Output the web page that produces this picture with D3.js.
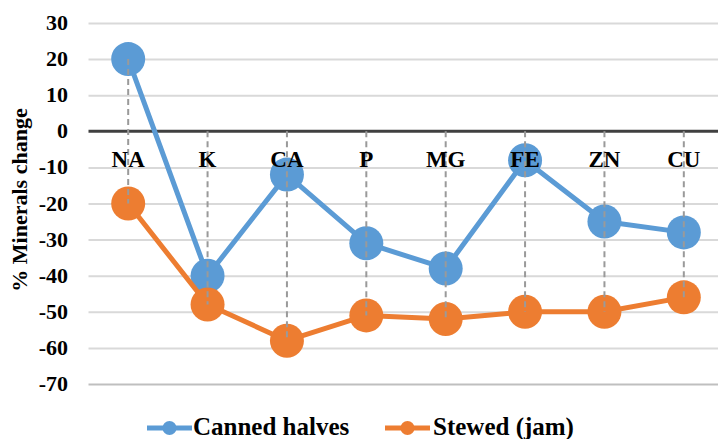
<!DOCTYPE html>
<html><head><meta charset="utf-8">
<script src="https://cdn.jsdelivr.net/npm/d3@7"></script>
<style>
html,body{margin:0;padding:0;background:#fff;overflow:hidden;}
#wrap{position:relative;width:718px;height:439px;overflow:hidden;}
#wrap svg{position:absolute;left:0;top:0;display:block;}
.lbl{position:absolute;white-space:nowrap;font-family:'Liberation Serif','Times New Roman',serif;font-weight:bold;color:#000;line-height:1;}
</style></head>
<body>
<div id="wrap"><svg id="c" width="718" height="439"></svg></div>
<script>
const categories = ["NA","K","CA","P","MG","FE","ZN","CU"];
const cannedHalves = [20,-40,-12,-31,-38,-8,-25,-28];
const stewedJam = [-20,-48,-58,-51,-52,-50,-50,-46];
const seriesNames = ["Canned halves","Stewed (jam)"];
const yTicks = [30,20,10,0,-10,-20,-30,-40,-50,-60,-70];
const colors = ["#5B9BD5","#ED7D31"];

const wrap = d3.select("#wrap");
const svg = d3.select("#c");
const x = d3.scaleBand().domain(categories).range([88.5, 723.5]);
const y = d3.scaleLinear().domain([-70,30]).range([384,23]);
const cx = d => x(d) + x.bandwidth()/2;

// HTML text helper: (x, baseline y), anchor start|middle|end
const ASC = 0.8375;
function label(sel, size, anchor){
  const tx = anchor==="middle" ? "-50%" : anchor==="end" ? "-100%" : "0";
  return sel.attr("class","lbl").style("font-size",size+"px")
    .style("transform",`translateX(${tx})`);
}

// gridlines via axis
const grid = d3.axisLeft(y).tickValues(yTicks.filter(t=>t!==0)).tickSize(-(718-88.5)).tickFormat("");
const gg = svg.append("g").attr("transform","translate(88.5,0)").call(grid);
gg.select(".domain").remove();
gg.selectAll(".tick line").attr("stroke",d=>d===-70?"#bfbfbf":"#d9d9d9").attr("stroke-width",2);

// zero line
svg.append("line").attr("x1",88.5).attr("x2",718).attr("y1",y(0)).attr("y2",y(0))
  .attr("stroke","#404040").attr("stroke-width",3);

// series
const lineGen = d3.line().x((d,i)=>cx(categories[i])).y(d=>y(d));
[cannedHalves, stewedJam].forEach((s,k)=>{
  svg.append("path").datum(s).attr("d",lineGen).attr("fill","none")
    .attr("stroke",colors[k]).attr("stroke-width",5).attr("stroke-linejoin","round");
  svg.append("g").selectAll("circle").data(s).join("circle")
    .attr("cx",(d,i)=>cx(categories[i])).attr("cy",d=>y(d)).attr("r",17)
    .attr("fill",colors[k]);
});

// drop lines
svg.append("g").selectAll("line").data(categories).join("line")
  .attr("x1",d=>cx(d)).attr("x2",d=>cx(d))
  .attr("y1",(d,i)=>y(Math.max(0,cannedHalves[i],stewedJam[i])))
  .attr("y2",(d,i)=>y(Math.min(cannedHalves[i],stewedJam[i])))
  .attr("stroke","#9a9a9a").attr("stroke-width",2).attr("stroke-dasharray","6,4");

// legend marks
const leg = [{x:147, tx:193},{x:385, tx:433}];
seriesNames.forEach((n,k)=>{
  svg.append("line").attr("x1",leg[k].x).attr("x2",leg[k].x+45).attr("y1",428).attr("y2",428)
    .attr("stroke",colors[k]).attr("stroke-width",5);
  svg.append("circle").attr("cx",leg[k].x+22.5).attr("cy",428).attr("r",7).attr("fill",colors[k]);
});

// y tick labels (HTML text)
const TS = 22;
wrap.selectAll("div.ytick").data(yTicks).join("div")
  .call(label, TS, "end").classed("ytick",true)
  .style("left","68px").style("top",d=>(y(d)+0.338*TS - ASC*TS)+"px")
  .text(d=>String(d));

// category labels
const CS = 23;
wrap.selectAll("div.cat").data(categories).join("div")
  .call(label, CS, "middle").classed("cat",true)
  .style("left",d=>cx(d)+"px").style("top",(167 - ASC*CS)+"px")
  .text(d=>d);

// y title
wrap.append("div").attr("class","lbl").style("font-size","22px")
  .style("left","20px").style("top","200px")
  .style("transform","translate(-50%,-50%) rotate(-90deg)")
  .text("% Minerals change");

// legend text
const LS = 25;
wrap.selectAll("div.leg").data(seriesNames).join("div")
  .call(label, LS, "start").classed("leg",true)
  .style("left",(d,i)=>leg[i].tx+"px").style("top",(435 - ASC*LS)+"px")
  .text(d=>d);
</script>
</body></html>
